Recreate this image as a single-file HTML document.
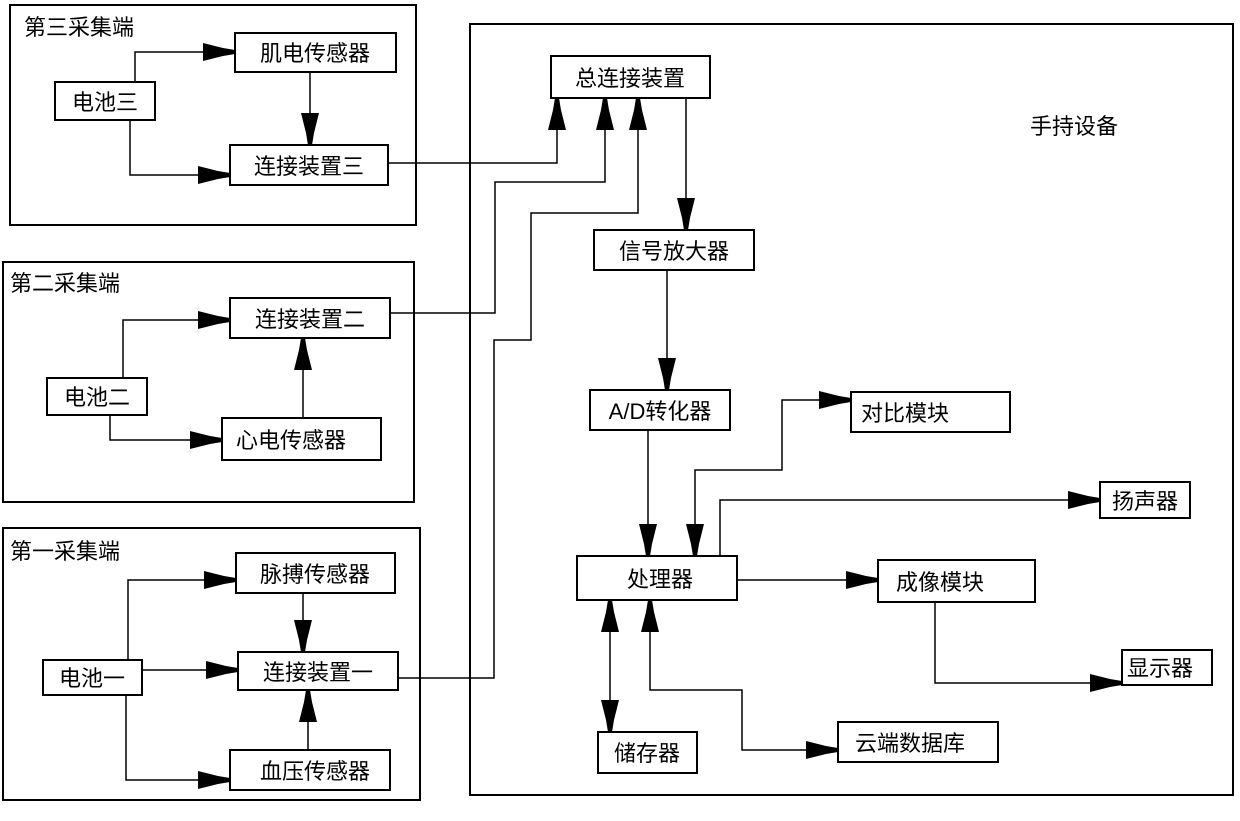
<!DOCTYPE html>
<html><head><meta charset="utf-8"><style>
html,body{margin:0;padding:0;background:#fff}
svg{display:block}
text{font-family:"Liberation Sans","WenQuanYi Zen Hei","Noto Sans CJK SC",sans-serif;font-size:22px;fill:#000}
.b{fill:#fff;stroke:#000;stroke-width:2}
.l{fill:none;stroke:#000;stroke-width:1.5}
</style></head><body>
<svg width="1240" height="821" viewBox="0 0 1240 821" xmlns="http://www.w3.org/2000/svg">
<defs>
<marker id="a" markerUnits="userSpaceOnUse" markerWidth="40" markerHeight="24" viewBox="-32 -12 34 24" refX="0" refY="0" orient="auto-start-reverse">
<path d="M-32,-9 L-12,-4 L0,-2 L0,2 L-12,4 L-32,9 Z" fill="#000"/>
</marker>
</defs>
<rect class="b" x="10" y="5" width="406" height="220"/>
<rect class="b" x="3" y="262" width="411" height="240"/>
<rect class="b" x="3" y="528" width="417" height="272"/>
<rect class="b" x="470" y="24" width="763" height="771"/>
<text x="24" y="35">第三采集端</text>
<text x="10" y="291">第二采集端</text>
<text x="10" y="559">第一采集端</text>
<text x="1030" y="134">手持设备</text>

<path class="l" d="M135,82 V52 H235" marker-end="url(#a)"/>
<path class="l" d="M130,120 V175 H230" marker-end="url(#a)"/>
<path class="l" d="M310,72 V145" marker-end="url(#a)"/>
<path class="l" d="M123,378 V320 H230" marker-end="url(#a)"/>
<path class="l" d="M110,415 V440 H222" marker-end="url(#a)"/>
<path class="l" d="M303,418 V338" marker-end="url(#a)"/>
<path class="l" d="M128,660 V580 H236" marker-end="url(#a)"/>
<path class="l" d="M142,670 H238" marker-end="url(#a)"/>
<path class="l" d="M126,695 V780 H230" marker-end="url(#a)"/>
<path class="l" d="M303,593 V652" marker-end="url(#a)"/>
<path class="l" d="M308,750 V690" marker-end="url(#a)"/>

<path class="l" d="M388,163 H557 V98" marker-end="url(#a)"/>
<path class="l" d="M390,313 H495 V182 H605 V98" marker-end="url(#a)"/>
<path class="l" d="M398,678 H494 V340 H531 V213 H638 V98" marker-end="url(#a)"/>
<path class="l" d="M686,98 V230" marker-end="url(#a)"/>
<path class="l" d="M667,270 V390" marker-end="url(#a)"/>
<path class="l" d="M648,430 V556" marker-end="url(#a)"/>
<path class="l" d="M695,556 V470 H782 V400 H851" marker-start="url(#a)" marker-end="url(#a)"/>
<path class="l" d="M720,556 V500 H1100" marker-end="url(#a)"/>
<path class="l" d="M737,580 H878" marker-end="url(#a)"/>
<path class="l" d="M935,602 V683 H1122" marker-end="url(#a)"/>
<path class="l" d="M610,600 V732" marker-start="url(#a)" marker-end="url(#a)"/>
<path class="l" d="M650,600 V690 H742 V750 H838" marker-start="url(#a)" marker-end="url(#a)"/>

<rect class="b" x="235" y="33" width="161" height="39"/><text x="315" y="61" text-anchor="middle">肌电传感器</text>
<rect class="b" x="55" y="82" width="100" height="38"/><text x="105" y="110" text-anchor="middle">电池三</text>
<rect class="b" x="230" y="145" width="158" height="40"/><text x="309" y="174" text-anchor="middle">连接装置三</text>
<rect class="b" x="230" y="298" width="160" height="40"/><text x="310" y="327" text-anchor="middle">连接装置二</text>
<rect class="b" x="47" y="378" width="100" height="37"/><text x="97" y="405" text-anchor="middle">电池二</text>
<rect class="b" x="222" y="418" width="159" height="42"/><text x="291" y="448" text-anchor="middle">心电传感器</text>
<rect class="b" x="236" y="553" width="159" height="40"/><text x="315" y="582" text-anchor="middle">脉搏传感器</text>
<rect class="b" x="43" y="660" width="99" height="35"/><text x="92" y="686" text-anchor="middle">电池一</text>
<rect class="b" x="238" y="652" width="160" height="38"/><text x="318" y="680" text-anchor="middle">连接装置一</text>
<rect class="b" x="230" y="750" width="160" height="40"/><text x="315" y="779" text-anchor="middle">血压传感器</text>

<rect class="b" x="551" y="56" width="159" height="42"/><text x="630" y="86" text-anchor="middle">总连接装置</text>
<rect class="b" x="594" y="230" width="160" height="40"/><text x="674" y="259" text-anchor="middle">信号放大器</text>
<rect class="b" x="590" y="390" width="140" height="40"/><text x="660" y="419" text-anchor="middle">A/D转化器</text>
<rect class="b" x="851" y="392" width="159" height="40"/><text x="905" y="421" text-anchor="middle">对比模块</text>
<rect class="b" x="1100" y="482" width="90" height="36"/><text x="1145" y="509" text-anchor="middle">扬声器</text>
<rect class="b" x="577" y="556" width="160" height="44"/><text x="660" y="587" text-anchor="middle">处理器</text>
<rect class="b" x="878" y="560" width="157" height="42"/><text x="940" y="590" text-anchor="middle">成像模块</text>
<rect class="b" x="1122" y="650" width="90" height="35"/><text x="1160" y="676" text-anchor="middle">显示器</text>
<rect class="b" x="598" y="732" width="99" height="41"/><text x="647" y="761" text-anchor="middle">储存器</text>
<rect class="b" x="838" y="722" width="160" height="40"/><text x="910" y="751" text-anchor="middle">云端数据库</text>
</svg>
</body></html>
